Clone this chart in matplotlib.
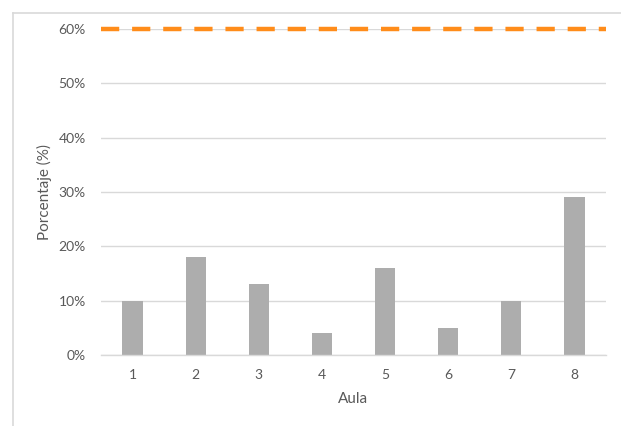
import matplotlib
matplotlib.use("Agg")
import matplotlib.pyplot as plt
from matplotlib.ticker import PercentFormatter
from matplotlib.lines import Line2D

plt.rcParams['font.family'] = ['Lato', 'DejaVu Sans']

# Datos
aulas = ["1", "2", "3", "4", "5", "6", "7", "8"]
porcentajes = [10, 18, 13, 4, 16, 5, 10, 29]
meta = 60
y_ticks = [0, 10, 20, 30, 40, 50, 60]

W, H = 621, 426
fig = plt.figure(figsize=(W / 100, H / 100), dpi=100)

# Marco del área del gráfico (bordes superior e izquierdo)
fx, fy = 12.5 / W, 1 - 12.5 / H
fig.add_artist(Line2D([fx, 1.0], [fy, fy], transform=fig.transFigure,
                      color="#d9d9d9", linewidth=1.2))
fig.add_artist(Line2D([fx, fx], [0.0, fy], transform=fig.transFigure,
                      color="#d9d9d9", linewidth=1.2))

ax = fig.add_axes([101 / W, 1 - 355 / H, (606 - 101) / W, (355 - 29) / H])

x = range(len(aulas))
ax.bar(x, porcentajes, width=0.32, color="#adadad", zorder=2)
ax.axhline(meta, color="#ff8c1a", linewidth=3.2, linestyle=(0, (4.1, 2.9)),
           dash_capstyle="butt", zorder=3, clip_on=False)

ax.set_xlim(-0.5, len(aulas) - 0.5)
ax.set_ylim(0, 60)
ax.set_yticks(y_ticks)
ax.yaxis.set_major_formatter(PercentFormatter(decimals=0))
ax.set_xticks(list(x))
ax.set_xticklabels(aulas)

ax.grid(axis="y", color="#d9d9d9", linewidth=1.0, zorder=0)
ax.set_axisbelow(True)
for side in ["top", "right", "left"]:
    ax.spines[side].set_visible(False)
ax.spines["bottom"].set_color("#d9d9d9")
ax.spines["bottom"].set_linewidth(1.0)
ax.tick_params(axis="both", length=0, colors="#595959", labelsize=10)
ax.tick_params(axis="x", pad=10)
ax.tick_params(axis="y", pad=11)

ax.set_xlabel("Aula", color="#595959", fontsize=11, labelpad=8)
ax.set_ylabel("Porcentaje (%)", color="#595959", fontsize=11, labelpad=5)

fig.savefig("out.png", dpi=100)
